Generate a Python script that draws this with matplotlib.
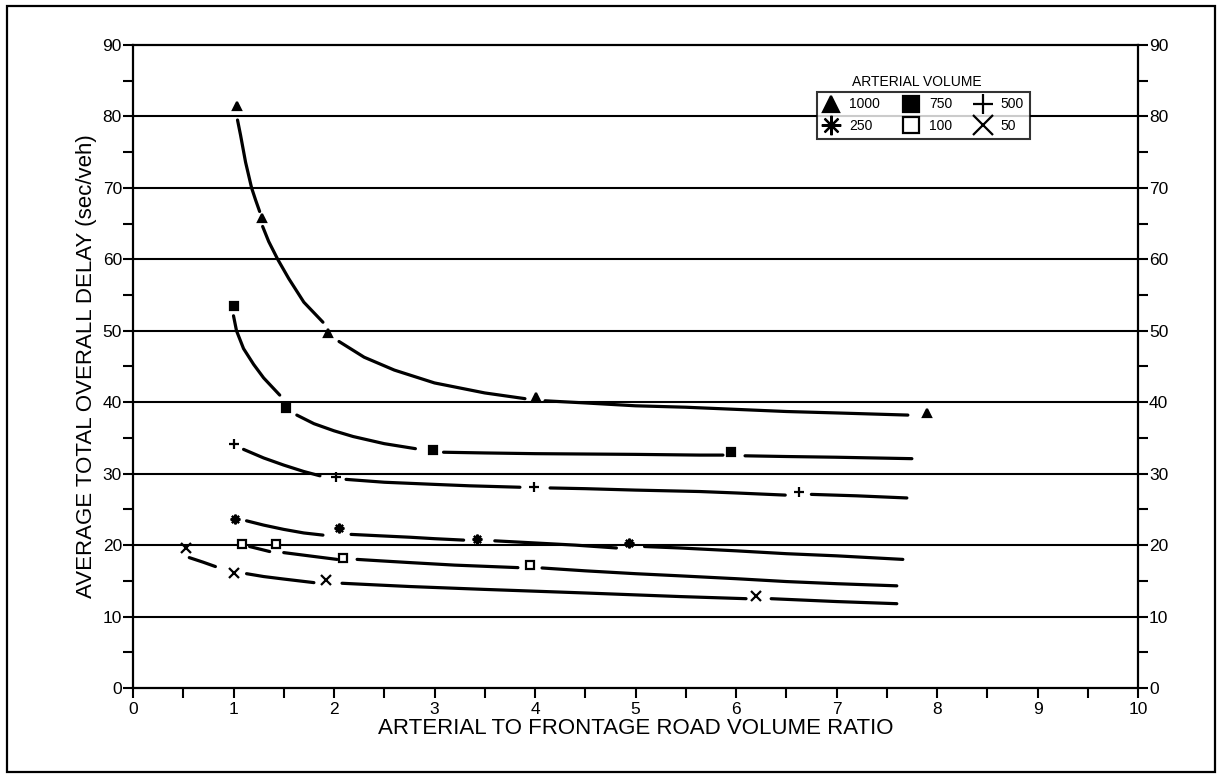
import numpy as np
import matplotlib
matplotlib.use("Agg")
import matplotlib.pyplot as plt
from matplotlib.lines import Line2D
from matplotlib.patches import Rectangle

plt.rcParams['font.family'] = ['Liberation Sans', 'DejaVu Sans']

# ---- data ----
series_names = ["1000", "750", "500", "250", "100", "50"]

# observed points (markers)
pts_1000_x = [1.03, 1.28, 1.94, 4.01, 7.90]
pts_1000_y = [81.4, 65.8, 49.7, 40.8, 38.5]
pts_750_x = [1.00, 1.52, 2.99, 5.95]
pts_750_y = [53.5, 39.2, 33.3, 33.1]
pts_500_x = [1.00, 2.02, 3.99, 6.63]
pts_500_y = [34.2, 29.6, 28.2, 27.4]
pts_250_x = [1.01, 2.05, 3.42, 4.94]
pts_250_y = [23.6, 22.4, 20.8, 20.3]
pts_100_x = [1.08, 1.42, 2.09, 3.95]
pts_100_y = [20.2, 20.2, 18.2, 17.2]
pts_50_x = [0.53, 1.00, 1.92, 6.20]
pts_50_y = [19.6, 16.1, 15.1, 12.9]

# fitted curves (gaps marked with None)
crv_1000_x = [1.04, 1.07, 1.12, 1.18, 1.22, 1.26, None,
              1.29, 1.35, 1.44, 1.55, 1.70, 1.89, None,
              2.05, 2.30, 2.60, 3.00, 3.50, 3.90, None,
              4.10, 4.50, 5.00, 5.50, 6.00, 6.50, 7.00, 7.71]
crv_1000_y = [79.5, 77.4, 73.6, 70.0, 68.3, 66.7, None,
              64.6, 62.5, 60.0, 57.3, 54.0, 51.2, None,
              48.5, 46.3, 44.5, 42.7, 41.3, 40.5, None,
              40.2, 39.9, 39.5, 39.3, 39.0, 38.7, 38.5, 38.2]
crv_750_x = [1.00, 1.03, 1.10, 1.20, 1.30, 1.46, None,
             1.63, 1.80, 2.00, 2.19, 2.50, 2.81, None,
             3.09, 3.50, 4.00, 4.50, 5.00, 5.64, 5.87, None,
             6.09, 6.50, 7.00, 7.75]
crv_750_y = [52.1, 50.0, 47.5, 45.3, 43.4, 41.0, None,
             38.2, 37.0, 36.0, 35.2, 34.2, 33.5, None,
             33.0, 32.9, 32.8, 32.75, 32.7, 32.6, 32.6, None,
             32.5, 32.4, 32.3, 32.1]
crv_500_x = [1.10, 1.30, 1.50, 1.70, 1.86, None,
             2.12, 2.50, 3.00, 3.35, 3.85, None,
             4.15, 4.50, 5.00, 5.64, 6.00, 6.49, None,
             6.75, 7.20, 7.70]
crv_500_y = [33.4, 32.2, 31.2, 30.3, 29.7, None,
             29.2, 28.8, 28.5, 28.3, 28.1, None,
             28.0, 27.9, 27.7, 27.5, 27.3, 27.0, None,
             27.1, 26.9, 26.6]
crv_250_x = [1.13, 1.30, 1.50, 1.70, 1.89, None,
             2.17, 2.46, 2.76, 3.00, 3.29, None,
             3.60, 4.00, 4.40, 4.81, None,
             5.09, 5.44, 6.00, 6.50, 7.00, 7.66]
crv_250_y = [23.4, 22.8, 22.2, 21.7, 21.4, None,
             21.5, 21.3, 21.1, 20.9, 20.7, None,
             20.6, 20.3, 20.0, 19.6, None,
             19.8, 19.6, 19.2, 18.8, 18.5, 18.0]
crv_100_x = [1.16, 1.36, None,
             1.50, 1.75, 2.03, None,
             2.23, 2.46, 2.76, 3.20, 3.83, None,
             4.07, 4.50, 5.00, 5.44, 6.00, 6.50, 7.00, 7.60]
crv_100_y = [19.8, 19.1, None,
             18.95, 18.5, 18.0, None,
             18.0, 17.8, 17.55, 17.2, 16.85, None,
             16.8, 16.4, 16.0, 15.7, 15.3, 14.9, 14.6, 14.3]
crv_50_x = [0.56, 0.70, 0.82, None,
            1.13, 1.30, 1.50, 1.80, None,
            2.08, 2.46, 2.76, 3.50, 4.50, 5.44, 6.10, None,
            6.35, 7.00, 7.60]
crv_50_y = [18.25, 17.6, 17.0, None,
            16.0, 15.6, 15.25, 14.75, None,
            14.66, 14.4, 14.2, 13.8, 13.3, 12.8, 12.5, None,
            12.5, 12.1, 11.8]

x_ticks = [0, 1, 2, 3, 4, 5, 6, 7, 8, 9, 10]
y_ticks = [0, 10, 20, 30, 40, 50, 60, 70, 80, 90]

# ---- styles ----
points = [(pts_1000_x, pts_1000_y), (pts_750_x, pts_750_y), (pts_500_x, pts_500_y),
          (pts_250_x, pts_250_y), (pts_100_x, pts_100_y), (pts_50_x, pts_50_y)]
curves = [(crv_1000_x, crv_1000_y), (crv_750_x, crv_750_y), (crv_500_x, crv_500_y),
          (crv_250_x, crv_250_y), (crv_100_x, crv_100_y), (crv_50_x, crv_50_y)]
markers = ['^', 's', '+', (8, 2, 0), 's', 'x']
faces = ['black', 'black', 'black', 'black', 'white', 'black']
msizes = [6, 6, 7, 7, 6, 7]


def to_arr(v):
    return np.array([np.nan if a is None else a for a in v], dtype=float)


fig = plt.figure(figsize=(12.2, 7.75), dpi=100)
ax = fig.add_axes([133 / 1220, 1 - 688 / 775, (1138 - 133) / 1220, (688 - 45) / 775])

# outer frame
fig.patches.append(Rectangle((0.006, 0.004), 0.99, 0.988, transform=fig.transFigure,
                             fill=False, edgecolor='black', linewidth=1.6))

for y in y_ticks[1:-1]:
    ax.axhline(y, color='black', linewidth=1.5, zorder=1)

handles = []
for (cx, cy), (px, py), m, fc, ms, name in zip(curves, points, markers, faces, msizes, series_names):
    ax.plot(to_arr(cx), to_arr(cy), color='black', linewidth=2.3,
            solid_capstyle='round', solid_joinstyle='round', zorder=3)
    ax.plot(px, py, linestyle='none', marker=m, markersize=ms, markerfacecolor=fc,
            markeredgecolor='black', markeredgewidth=1.6, zorder=4)
    handles.append(Line2D([], [], linestyle='none', marker=m, markersize=ms,
                          markerfacecolor=fc, markeredgecolor='black',
                          markeredgewidth=1.6, label=name))

ax.set_xlim(0, 10)
ax.set_ylim(0, 90)
ax.set_xticks(x_ticks)
ax.set_xticks(np.arange(0.5, 10, 1.0), minor=True)
ax.set_yticks(y_ticks)
ax.set_yticks(np.arange(5, 90, 10), minor=True)
ax.tick_params(axis='both', which='both', direction='out', length=7, width=1.5,
               labelsize=12.5, colors='black')
ax.tick_params(axis='y', which='both', right=True, labelright=True, pad=1)
ax.tick_params(axis='x', which='major', pad=3)
for s in ax.spines.values():
    s.set_linewidth(1.6)

ax.set_xlabel("ARTERIAL TO FRONTAGE ROAD VOLUME RATIO", fontsize=16, labelpad=1)
ax.set_ylabel("AVERAGE TOTAL OVERALL DELAY (sec/veh)", fontsize=16, labelpad=4)

order = [0, 3, 1, 4, 2, 5]
leg = ax.legend([handles[i] for i in order], [series_names[i] for i in order],
                ncol=3, loc='upper left', bbox_to_anchor=(0.681, 0.927),
                borderaxespad=0.0,
                markerscale=2.0, fontsize=10, frameon=True, fancybox=False,
                edgecolor='black', handletextpad=0.7, columnspacing=1.6,
                labelspacing=0.55, borderpad=0.4, handlelength=1.2)
leg.get_frame().set_linewidth(1.5)
ax.text(0.780, 0.932, "ARTERIAL VOLUME", transform=ax.transAxes, ha='center',
        va='bottom', fontsize=10)

fig.savefig("out.png", dpi=100)
